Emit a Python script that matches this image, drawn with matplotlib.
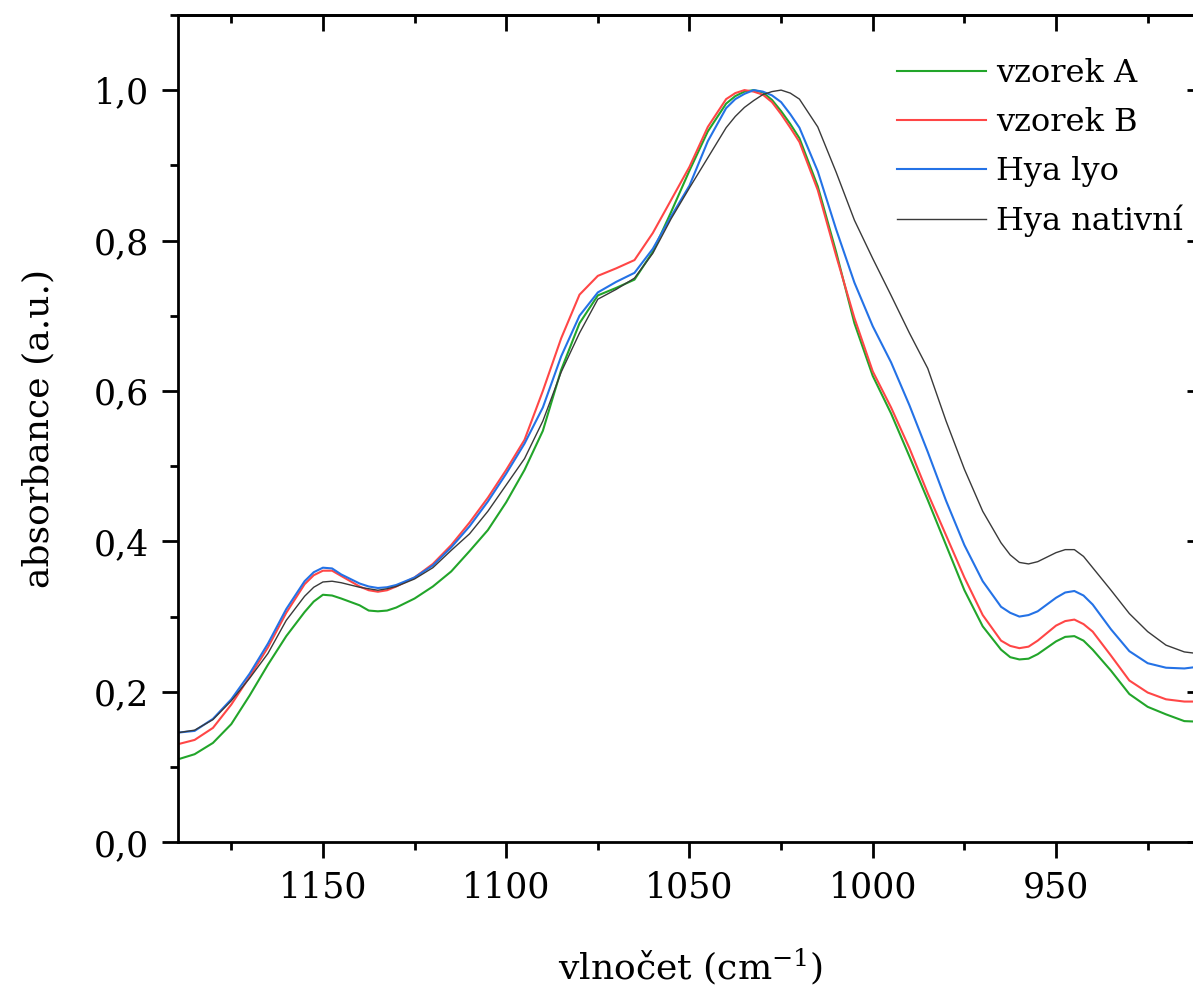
import numpy as np
import matplotlib
matplotlib.use("Agg")
import matplotlib.pyplot as plt
from matplotlib.ticker import MultipleLocator

# vlnocet (cm-1)
x = [1189, 1185, 1180, 1175, 1170, 1165, 1160, 1155, 1152.5, 1150,
     1147.5, 1145, 1140, 1137.5, 1135, 1132.5, 1130, 1125, 1120, 1115,
     1110, 1105, 1100, 1095, 1090, 1085, 1080, 1075, 1070, 1065,
     1060, 1055, 1050, 1045, 1040, 1037.5, 1035, 1032.5, 1030, 1027.5,
     1025, 1022.5, 1020, 1015, 1010, 1005, 1000, 995, 990, 985,
     980, 975, 970, 965, 962.5, 960, 957.5, 955, 950, 947.5,
     945, 942.5, 940, 935, 930, 925, 920, 915, 910]

vzorek_A = [0.111, 0.117, 0.132, 0.157, 0.195, 0.236, 0.274, 0.306, 0.320, 0.329,
            0.328, 0.324, 0.315, 0.308, 0.307, 0.308, 0.312, 0.324, 0.340, 0.360,
            0.387, 0.415, 0.452, 0.495, 0.547, 0.628, 0.690, 0.727, 0.737, 0.748,
            0.785, 0.838, 0.893, 0.945, 0.982, 0.992, 0.998, 1.000, 0.997, 0.987,
            0.972, 0.955, 0.936, 0.872, 0.785, 0.690, 0.620, 0.570, 0.513, 0.455,
            0.395, 0.335, 0.287, 0.256, 0.246, 0.243, 0.244, 0.250, 0.267, 0.273,
            0.274, 0.268, 0.256, 0.228, 0.197, 0.180, 0.170, 0.161, 0.160]

vzorek_B = [0.131, 0.136, 0.152, 0.183, 0.220, 0.259, 0.305, 0.343, 0.355, 0.361,
            0.361, 0.354, 0.340, 0.335, 0.333, 0.335, 0.340, 0.352, 0.370, 0.395,
            0.425, 0.458, 0.495, 0.535, 0.600, 0.670, 0.728, 0.753, 0.763, 0.774,
            0.810, 0.854, 0.898, 0.951, 0.988, 0.996, 1.000, 0.998, 0.994, 0.984,
            0.968, 0.950, 0.931, 0.867, 0.780, 0.697, 0.626, 0.578, 0.524, 0.464,
            0.408, 0.352, 0.302, 0.268, 0.261, 0.258, 0.260, 0.268, 0.288, 0.294,
            0.296, 0.290, 0.280, 0.248, 0.215, 0.199, 0.190, 0.187, 0.187]

hya_lyo = [0.146, 0.148, 0.164, 0.190, 0.224, 0.264, 0.310, 0.347, 0.359, 0.365,
           0.364, 0.356, 0.344, 0.340, 0.338, 0.339, 0.342, 0.352, 0.368, 0.392,
           0.420, 0.453, 0.490, 0.530, 0.578, 0.646, 0.700, 0.731, 0.745, 0.757,
           0.789, 0.832, 0.873, 0.932, 0.976, 0.988, 0.995, 1.000, 0.998, 0.993,
           0.984, 0.968, 0.950, 0.892, 0.815, 0.744, 0.686, 0.638, 0.581, 0.519,
           0.454, 0.395, 0.347, 0.313, 0.305, 0.300, 0.302, 0.307, 0.325, 0.332,
           0.334, 0.328, 0.316, 0.283, 0.254, 0.238, 0.232, 0.231, 0.234]

hya_nativni = [0.146, 0.149, 0.163, 0.188, 0.218, 0.251, 0.295, 0.327, 0.339, 0.346,
               0.347, 0.345, 0.339, 0.337, 0.335, 0.337, 0.340, 0.350, 0.365, 0.388,
               0.410, 0.440, 0.475, 0.510, 0.560, 0.625, 0.677, 0.722, 0.735, 0.750,
               0.783, 0.829, 0.870, 0.910, 0.950, 0.965, 0.977, 0.986, 0.994, 0.998,
               1.000, 0.996, 0.988, 0.951, 0.891, 0.827, 0.776, 0.727, 0.677, 0.630,
               0.560, 0.496, 0.440, 0.398, 0.382, 0.372, 0.370, 0.373, 0.385, 0.389,
               0.389, 0.380, 0.365, 0.335, 0.304, 0.280, 0.262, 0.253, 0.250]

nazvy = ["vzorek A", "vzorek B", "Hya lyo", "Hya nativní"]
barvy = ["#22a52a", "#ff4646", "#2472e6", "#3a3a3a"]
tloustky = [1.5, 1.5, 1.5, 1.0]

xticks = [1150, 1100, 1050, 1000, 950]
yticks = [0.0, 0.2, 0.4, 0.6, 0.8, 1.0]
ylab = ["0,0", "0,2", "0,4", "0,6", "0,8", "1,0"]

plt.rcParams['font.family'] = ['DejaVu Serif']
plt.rcParams['mathtext.fontset'] = 'dejavuserif'

fig = plt.figure(figsize=(11.93, 9.92), dpi=100)
ax = fig.add_axes([0.149, 0.151, 1.0084 - 0.149, 0.985 - 0.151])

serie = [vzorek_A, vzorek_B, hya_lyo, hya_nativni]
for y, n, c, lw in zip(serie, nazvy, barvy, tloustky):
    ax.plot(x, y, color=c, lw=lw, label=n)

ax.set_xlim(1189.6, 909.9)
ax.set_ylim(0, 1.1)
ax.set_xticks(xticks)
ax.set_yticks(yticks)
ax.set_yticklabels(ylab)
ax.xaxis.set_minor_locator(MultipleLocator(25))
ax.yaxis.set_minor_locator(MultipleLocator(0.1))

for s in ax.spines.values():
    s.set_linewidth(2.0)
ax.tick_params(which='major', direction='out', length=11.5, width=2.0, labelsize=25, pad=9)
ax.tick_params(which='minor', direction='out', length=6, width=2.0)

# horni a prava osa s ticky dovnitr
top = ax.secondary_xaxis('top')
top.set_xticks(xticks)
top.xaxis.set_minor_locator(MultipleLocator(25))
top.tick_params(which='major', direction='in', length=11.5, width=2.0, labeltop=False)
top.tick_params(which='minor', direction='in', length=6, width=2.0)
top.spines['top'].set_linewidth(2.0)

right = ax.secondary_yaxis('right')
right.set_yticks(yticks)
right.yaxis.set_minor_locator(MultipleLocator(0.1))
right.tick_params(which='major', direction='in', length=11.5, width=2.0, labelright=False)
right.tick_params(which='minor', direction='in', length=6, width=2.0)
right.spines['right'].set_linewidth(2.0)

ax.set_xlabel("vlnočet (cm$^{-1}$)", fontsize=26, labelpad=30)
ax.set_ylabel("absorbance (a.u.)", fontsize=26, labelpad=28)

leg = ax.legend(loc='upper left', bbox_to_anchor=(897 / 1193, 1 - 58 / 992),
                bbox_transform=fig.transFigure, frameon=False, fontsize=23,
                handlelength=2.8, handletextpad=0.3, labelspacing=0.56, borderpad=0,
                borderaxespad=0)

fig.savefig("out.png", dpi=100)
